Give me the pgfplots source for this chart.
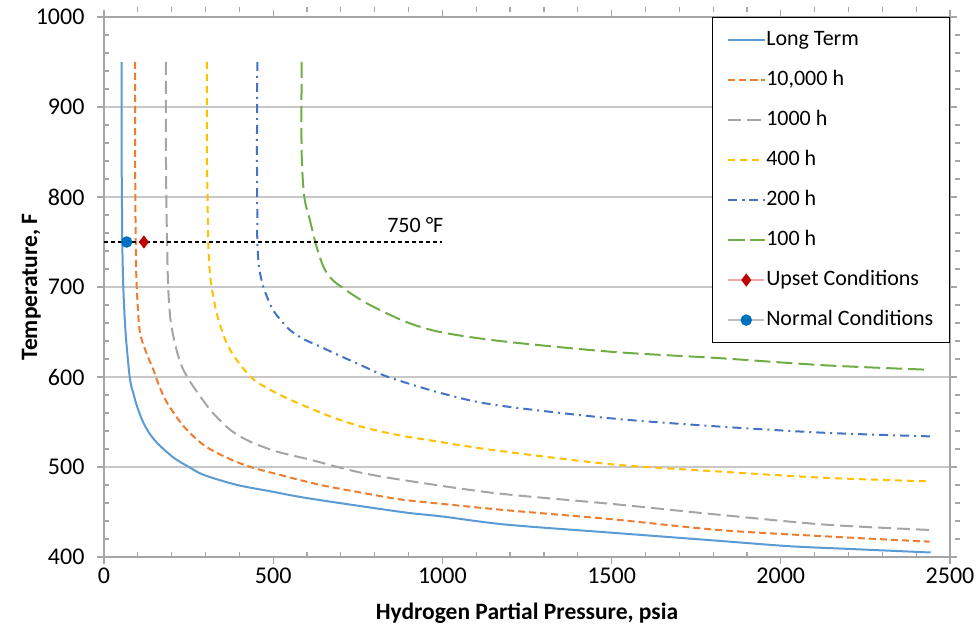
\documentclass[border=0pt]{standalone}
\usepackage{fontspec}
\setmainfont{Carlito}
\usepackage{pgfplots}
\pgfplotsset{compat=1.18}

\definecolor{cLong}{HTML}{5B9BD5}
\definecolor{cTenK}{HTML}{ED7D31}
\definecolor{cThou}{HTML}{A5A5A5}
\definecolor{cFour}{HTML}{FFC000}
\definecolor{cTwo}{HTML}{4472C4}
\definecolor{cHund}{HTML}{70AD47}
\definecolor{cUpset}{HTML}{C00000}
\definecolor{cUpsetLn}{HTML}{F4A6A6}
\definecolor{cNormal}{HTML}{0070C0}
\definecolor{cNormalLn}{HTML}{BFBFBF}
\definecolor{cGrid}{HTML}{C8C8C8}
\definecolor{cAxis}{HTML}{A6A6A6}

\newcommand{\tickfont}{\fontsize{24}{26}\selectfont}
\newcommand{\legfont}{\fontsize{22}{24}\selectfont}
\newcommand{\labfont}{\fontsize{23.5}{26}\selectfont\bfseries}

\begin{document}
\begin{tikzpicture}
\path (-104pt,-74pt) rectangle (875pt,557pt);
\begin{axis}[
  scale only axis,
  width=846pt, height=540pt,
  xmin=0, xmax=2500, ymin=400, ymax=1000,
  xtick={0,500,...,2500}, ytick={400,500,...,1000},
  minor x tick num=4, minor y tick num=4,
  tick align=outside,
  major tick length=7pt, minor tick length=5pt,
  every minor x tick/.append style={yshift=5pt},
  every minor y tick/.append style={xshift=5pt},
  tick style={cAxis, line width=1.2pt},
  axis line style={cAxis, line width=1.6pt},
  ymajorgrids,
  grid style={cGrid, line width=1.3pt},
  /pgf/number format/assume math mode=true,
  /pgf/number format/1000 sep={},
  tick label style={font=\tickfont},
  yticklabel style={xshift=-9pt},
  xlabel={Hydrogen Partial Pressure, psia},
  ylabel={Temperature, F},
  label style={font=\labfont},
  xlabel shift=13pt,
  ylabel shift=-12pt,
  clip=false,
  legend cell align=left,
  legend style={
    at={(rel axis cs:1,1)}, anchor=north east,
    draw=black, line width=1.2pt,
    font=\legfont,
    inner xsep=15pt, inner ysep=12pt,
    row sep=19pt,
    nodes={inner sep=1pt, text height=15pt, text depth=4pt},
  },
  legend image code/.code={
    \draw[mark repeat=2, mark phase=2, #1]
      plot coordinates {(0pt,0pt) (18pt,0pt) (36pt,0pt)};
  },
  every axis plot/.append style={line width=2pt},
]
% Long Term
\addplot[cLong, smooth, tension=0.5] coordinates {
  (52,950) (52,850) (53,800) (54,750) (57,700) (62,660) (68,630) (77,597)
  (88,580) (98,567) (112,553) (128,541) (147,531) (167,523) (207,510)
  (251,500) (296,491) (394,480) (492,473) (591,466) (768,456) (900,449)
  (1000,445) (1188,436) (1500,427) (1816,418) (2025,412) (2200,409) (2443,405)
};
\addlegendentry{Long Term}
% 10,000 h
\addplot[cTenK, dash pattern=on 7pt off 4pt, smooth, tension=0.5] coordinates {
  (92,950) (92,850) (93,780) (95,720) (98,690) (106,650) (126,626) (146,608)
  (162,591) (187,571) (236,545) (296,524) (365,510) (433,500) (522,491)
  (640,480) (768,471) (875,464) (1000,459) (1188,452) (1500,442) (1816,430)
  (2130,423) (2440,417)
};
\addlegendentry{10,000 h}
% 1000 h
\addplot[cThou, dash pattern=on 13pt off 6pt, smooth, tension=0.5] coordinates {
  (183,950) (183,850) (185,780) (188,720) (191,690) (196,665) (205,645)
  (218,625) (232,610) (246,600) (261,591) (315,563) (374,541) (433,528)
  (512,517) (611,508) (690,500) (768,493) (875,486) (1155,471) (1500,459)
  (1816,447) (2130,436) (2443,430)
};
\addlegendentry{1000 h}
% 400 h
\addplot[cFour, dash pattern=on 7pt off 5pt, smooth, tension=0.5] coordinates {
  (304,950) (304,850) (306,800) (308,750) (312,720) (318,700) (333,671)
  (350,650) (367,634) (400,615) (443,597) (500,584) (561,573) (670,556)
  (768,544) (875,535) (958,530) (1146,519) (1500,503) (1816,495) (2130,488)
  (2440,484)
};
\addlegendentry{400 h}
% 200 h
\addplot[cTwo, dash pattern=on 9pt off 5pt on 2pt off 5pt, smooth, tension=0.5] coordinates {
  (453,950) (452,850) (453,780) (453,752) (457,725) (463,712) (471,700)
  (485,686) (500,674) (525,662) (550,652) (590,642) (638,634) (683,626)
  (760,613) (840,600) (997,582) (1155,569) (1500,554) (1816,545) (2130,538)
  (2443,534)
};
\addlegendentry{200 h}
% 100 h
\addplot[cHund, dash pattern=on 16pt off 6pt, smooth, tension=0.5] coordinates {
  (584,950) (584,850) (592,800) (608,775) (623,752) (636,735) (653,719)
  (675,708) (702,700) (745,689) (796,678) (894,661) (993,650) (1170,640)
  (1500,628) (1816,621) (2130,613) (2440,608)
};
\addlegendentry{100 h}
% 750 F reference line
\addplot[black, line width=1.3pt, dash pattern=on 4pt off 3pt, forget plot] coordinates {
  (0,750) (1000,750)
};
% Points
\addplot[cUpsetLn, mark=diamond*, mark size=5pt,
  mark options={solid, fill=cUpset, draw=cUpset}] coordinates {(118,750)};
\addlegendentry{Upset Conditions}
\addplot[cNormalLn, mark=*, mark size=4.7pt,
  mark options={solid, fill=cNormal, draw=cNormal}] coordinates {(67,750)};
\addlegendentry{Normal Conditions}
\node[font=\fontsize{22}{24}\selectfont] at (axis cs:920,769) {750 °F};
\end{axis}
\end{tikzpicture}
\end{document}
